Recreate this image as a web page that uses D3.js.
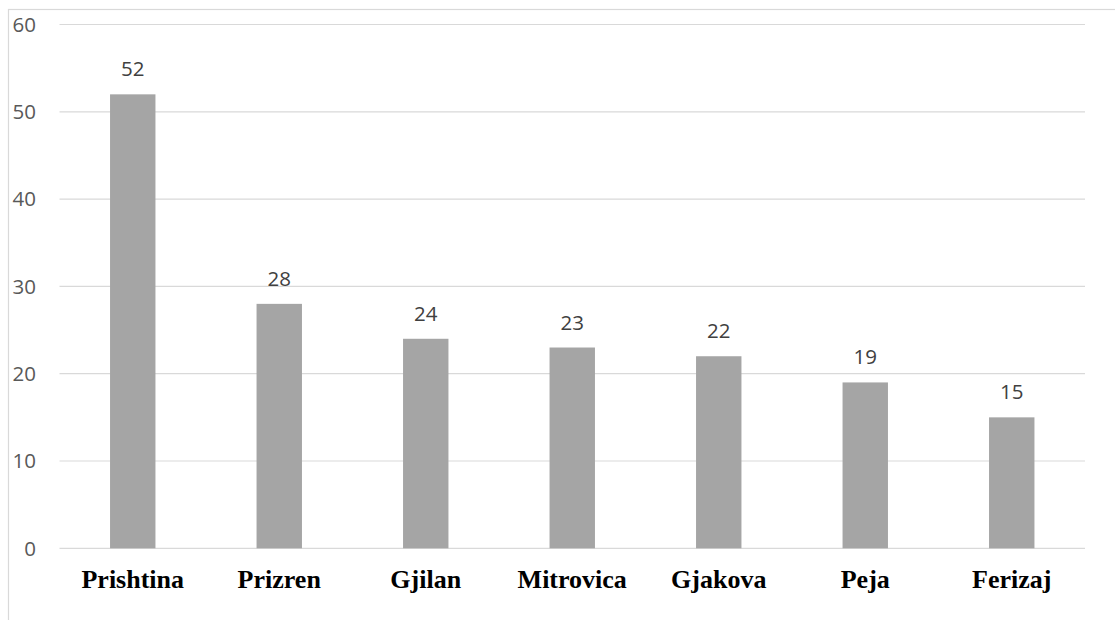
<!DOCTYPE html>
<html>
<head>
<meta charset="utf-8">
<script src="https://cdn.jsdelivr.net/npm/d3@7"></script>
<style>
  body { margin: 0; background: #fff; }
  svg { display: block; }
</style>
</head>
<body>
<svg id="chart" width="1115" height="620"></svg>
<script>
var cities = ['Prishtina', 'Prizren', 'Gjilan', 'Mitrovica', 'Gjakova', 'Peja', 'Ferizaj']
var counts = [52, 28, 24, 23, 22, 19, 15]
var yTicks = [0, 10, 20, 30, 40, 50, 60]

var svg = d3.select('#chart')

// chart area border (right and bottom edges fall outside the picture)
svg.append('rect')
    .attr('x', 8.5).attr('y', 9.5)
    .attr('width', 1120).attr('height', 620)
    .attr('fill', 'none')
    .attr('stroke', '#d9d9d9')
    .attr('stroke-width', 1.2)

var plotLeft = 59.5, plotRight = 1085, plotTop = 24.5, plotBottom = 548.3

var x = d3.scaleBand().domain(cities).range([plotLeft, plotRight]).paddingInner(0.69).paddingOuter(0.345)
var y = d3.scaleLinear().domain([0, 60]).range([plotBottom, plotTop])

// gridlines
svg.append('g')
    .selectAll('line')
    .data(yTicks)
    .enter()
    .append('line')
    .attr('x1', plotLeft).attr('x2', plotRight)
    .attr('y1', function(d) { return y(d) })
    .attr('y2', function(d) { return y(d) })
    .attr('stroke', '#d9d9d9')
    .attr('stroke-width', 1.2)

// y tick labels
svg.append('g')
    .selectAll('text')
    .data(yTicks)
    .enter()
    .append('text')
    .attr('x', 36)
    .attr('y', function(d) { return y(d) })
    .attr('dy', '0.36em')
    .attr('text-anchor', 'end')
    .style('font-family', '"Open Sans", sans-serif')
    .style('font-size', '20.5px')
    .style('fill', '#595959')
    .text(function(d) { return d })

// bars
svg.append('g')
    .selectAll('rect')
    .data(counts)
    .enter()
    .append('rect')
    .attr('x', function(d, i) { return x(cities[i]) })
    .attr('y', function(d) { return y(d) })
    .attr('width', x.bandwidth())
    .attr('height', function(d) { return plotBottom - y(d) })
    .attr('fill', '#a5a5a5')

// value labels
svg.append('g')
    .selectAll('text')
    .data(counts)
    .enter()
    .append('text')
    .attr('x', function(d, i) { return x(cities[i]) + x.bandwidth() / 2 })
    .attr('y', function(d) { return y(d) - 18 })
    .attr('text-anchor', 'middle')
    .style('font-family', '"Open Sans", sans-serif')
    .style('font-size', '20.5px')
    .style('fill', '#404040')
    .text(function(d) { return d })

// category labels
svg.append('g')
    .selectAll('text')
    .data(cities)
    .enter()
    .append('text')
    .attr('x', function(d) { return x(d) + x.bandwidth() / 2 })
    .attr('y', 588)
    .attr('text-anchor', 'middle')
    .style('font-family', '"Liberation Serif", "Times New Roman", serif')
    .style('font-weight', 'bold')
    .style('font-size', '26px')
    .style('fill', '#000')
    .text(function(d) { return d })
</script>
</body>
</html>
